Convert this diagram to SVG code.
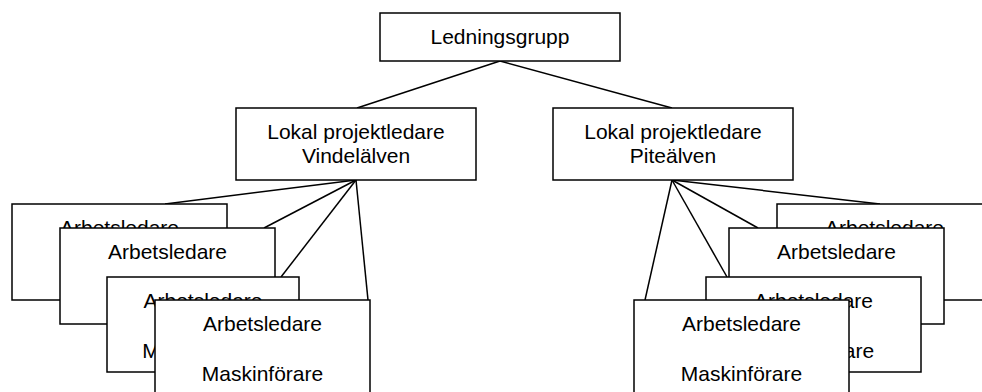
<svg xmlns="http://www.w3.org/2000/svg" width="982" height="392" viewBox="0 0 982 392">
<style>
rect{fill:#fff;stroke:#000;stroke-width:1.5}
line{stroke:#000;stroke-width:1.5}
text{font-family:"Liberation Sans",Arial,sans-serif;font-size:21px;fill:#000;text-anchor:middle}
</style>
<rect x="0" y="0" width="982" height="392" style="stroke:none"/>
<g id="connectors">
<line x1="500" y1="61" x2="357" y2="108"/>
<line x1="500" y1="61" x2="672" y2="108"/>
<line x1="356" y1="180" x2="165" y2="204"/>
<line x1="356" y1="180" x2="264" y2="228"/>
<line x1="356" y1="180" x2="281" y2="277"/>
<line x1="356" y1="180" x2="368" y2="300"/>
<line x1="672" y1="180" x2="880" y2="204"/>
<line x1="672" y1="180" x2="758" y2="228"/>
<line x1="672" y1="180" x2="727" y2="277"/>
<line x1="672" y1="180" x2="645" y2="300"/>
</g>
<g id="ledningsgrupp">
<rect x="380" y="13" width="240" height="48"/>
<text x="500" y="44">Ledningsgrupp</text>
</g>
<g id="lp-vindelalven">
<rect x="236" y="108" width="240" height="72"/>
<text x="356" y="139">Lokal projektledare</text>
<text x="356" y="163">Vindelälven</text>
</g>
<g id="lp-pitealven">
<rect x="553" y="108" width="240" height="72"/>
<text x="673" y="139">Lokal projektledare</text>
<text x="673" y="163">Piteälven</text>
</g>
<g id="v-arb1">
<rect x="12" y="204" width="215" height="96"/>
<text x="119.5" y="235">Arbetsledare</text>
</g>
<g id="v-arb2">
<rect x="60" y="228" width="215" height="96"/>
<text x="167.5" y="259">Arbetsledare</text>
</g>
<g id="v-arb3">
<rect x="107" y="277" width="192" height="95"/>
<text x="203" y="308">Arbetsledare</text>
<text x="203" y="358">Maskinförare</text>
</g>
<g id="v-arb4">
<rect x="155" y="300" width="215" height="100"/>
<text x="262.5" y="331">Arbetsledare</text>
<text x="262.5" y="381">Maskinförare</text>
</g>
<g id="p-arb1">
<rect x="777" y="204" width="215" height="96"/>
<text x="884.5" y="235">Arbetsledare</text>
</g>
<g id="p-arb2">
<rect x="729" y="228" width="215" height="96"/>
<text x="836.5" y="259">Arbetsledare</text>
</g>
<g id="p-arb3">
<rect x="706" y="277" width="215" height="95"/>
<text x="813.5" y="308">Arbetsledare</text>
<text x="813.5" y="358">Maskinförare</text>
</g>
<g id="p-arb4">
<rect x="634" y="300" width="215" height="100"/>
<text x="741.5" y="331">Arbetsledare</text>
<text x="741.5" y="381">Maskinförare</text>
</g>
</svg>
